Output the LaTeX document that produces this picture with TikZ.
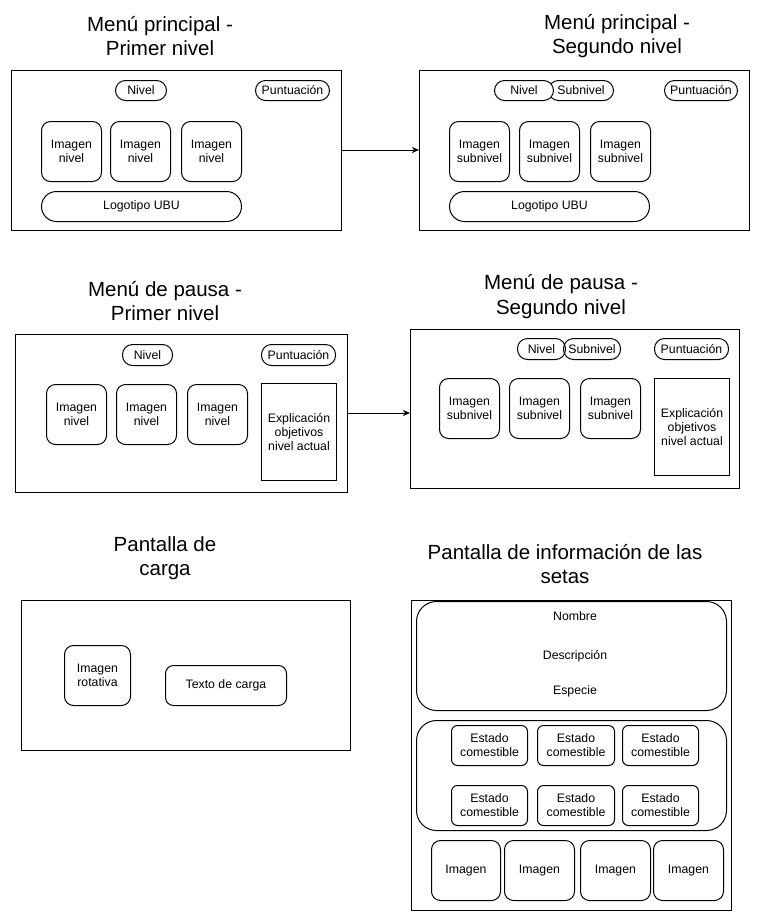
\documentclass[tikz,border=0pt]{standalone}
\usepackage{fontspec}
\setmainfont{Liberation Sans}
\usetikzlibrary{arrows.meta,positioning}
\newcommand{\boxfont}{\fontsize{12.3}{14}\selectfont}
\newcommand{\titlefont}{\fontsize{20.5}{24.5}\selectfont}

\begin{document}
\begin{tikzpicture}[
    x=1pt, y=-1pt,
    screen/.style={rectangle, draw, line width=1pt, anchor=north west, inner sep=0pt, outer sep=0pt},
    pill/.style={rectangle, draw, line width=1pt, rounded corners=10pt, minimum height=20pt, anchor=north west, inner sep=0pt, font=\boxfont},
    imgbox/.style={rectangle, draw, line width=1pt, rounded corners=9pt, minimum width=60pt, minimum height=60pt, anchor=north west, inner sep=0pt, align=center, font=\boxfont},
    textbox/.style={rectangle, draw, line width=1pt, minimum width=75pt, minimum height=97pt, anchor=north west, inner sep=0pt, align=center, font=\boxfont},
    statebox/.style={rectangle, draw, line width=1pt, rounded corners=6pt, minimum height=40pt, anchor=north west, inner sep=0pt, align=center, font=\boxfont},
    panel/.style={rectangle, draw, line width=1pt, rounded corners=20pt, minimum width=310pt, anchor=north west, inner sep=0pt},
    label/.style={inner sep=0pt, font=\boxfont},
    title/.style={align=center, font=\titlefont},
    arrow/.style={-{Stealth[length=7pt, width=6pt, inset=2pt]}, line width=1pt}
]
    \useasboundingbox (0,0) rectangle (761,922);

    % Titles
    \node[title] (t-mainone) at (160,36) {Menú principal -\\Primer nivel};
    \node[title] (t-maintwo) at (617,36) {Menú principal -\\Segundo nivel};
    \node[title] (t-pauseone) at (165,301) {Menú de pausa -\\Primer nivel};
    \node[title] (t-pausetwo) at (561,296.5) {Menú de pausa -\\Segundo nivel};
    \node[title] (t-loading) at (165,558) {Pantalla de\\carga};
    \node[title] (t-info) at (565,564) {Pantalla de información de las\\setas};

    % Main menu - first level
    \node[screen, minimum width=330pt, minimum height=160pt] (mainone) at (11,70) {};
    \node[pill, minimum width=51pt] (mainone-level) at (115,80) {Nivel};
    \node[pill, minimum width=74pt] (mainone-score) at (255,80) {Puntuación};
    \node[imgbox] (mainone-imga) at (41,121) {Imagen\\nivel};
    \node[imgbox] (mainone-imgb) at (110,121) {Imagen\\nivel};
    \node[imgbox] (mainone-imgc) at (181,121) {Imagen\\nivel};
    \node[pill, minimum width=200pt, minimum height=30pt, rounded corners=15pt] (mainone-logo) at (41,191) {Logotipo UBU};

    % Main menu - second level
    \node[pill, minimum width=65pt] (maintwo-sublevel) at (548,80) {Subnivel};
    \node[pill, minimum width=59pt, fill=white] (maintwo-level) at (494,80) {Nivel};
    \node[screen, minimum width=330pt, minimum height=160pt] (maintwo) at (419,70) {};
    \node[pill, minimum width=73pt] (maintwo-score) at (664,80) {Puntuación};
    \node[imgbox] (maintwo-imga) at (449,121) {Imagen\\subnivel};
    \node[imgbox] (maintwo-imgb) at (519,121) {Imagen\\subnivel};
    \node[imgbox] (maintwo-imgc) at (590,121) {Imagen\\subnivel};
    \node[pill, minimum width=200pt, minimum height=30pt, rounded corners=15pt] (maintwo-logo) at (449,191) {Logotipo UBU};

    % Pause menu - first level
    \node[screen, minimum width=332pt, minimum height=158pt] (pauseone) at (15,334) {};
    \node[pill, minimum width=50pt, minimum height=21pt] (pauseone-level) at (122,344) {Nivel};
    \node[pill, minimum width=74pt, minimum height=21pt] (pauseone-score) at (261,344) {Puntuación};
    \node[imgbox] (pauseone-imga) at (46,384) {Imagen\\nivel};
    \node[imgbox] (pauseone-imgb) at (116,384) {Imagen\\nivel};
    \node[imgbox] (pauseone-imgc) at (187,384) {Imagen\\nivel};
    \node[textbox] (pauseone-goal) at (261,383) {Explicación\\objetivos\\nivel actual};

    % Pause menu - second level
    \node[screen, minimum width=329pt, minimum height=159pt] (pausetwo) at (410,329) {};
    \node[pill, minimum width=48pt, minimum height=21pt] (pausetwo-level) at (517,338) {Nivel};
    \node[pill, minimum width=57pt, minimum height=21pt] (pausetwo-sublevel) at (563,338) {Subnivel};
    \node[pill, minimum width=74pt, minimum height=21pt] (pausetwo-score) at (654,338) {Puntuación};
    \node[imgbox] (pausetwo-imga) at (439,378) {Imagen\\subnivel};
    \node[imgbox] (pausetwo-imgb) at (509,378) {Imagen\\subnivel};
    \node[imgbox] (pausetwo-imgc) at (580,378) {Imagen\\subnivel};
    \node[textbox] (pausetwo-goal) at (654,378) {Explicación\\objetivos\\nivel actual};

    % Loading screen
    \node[screen, minimum width=329pt, minimum height=150pt] (loading) at (21,600) {};
    \node[imgbox, minimum width=66pt] (loading-img) at (64,645) {Imagen\\rotativa};
    \node[statebox, minimum width=121pt, rounded corners=8pt] (loading-text) at (165,665) {Texto de carga};

    % Mushroom info screen
    \node[screen, minimum width=320pt, minimum height=310pt] (info) at (411,600) {};
    \node[panel, minimum height=109pt] (info-data) at (416,601) {};
    \node[label] (info-name) at (575,616) {Nombre};
    \node[label] (info-desc) at (575,656) {Descripción};
    \node[label] (info-species) at (575,691) {Especie};
    \node[panel, minimum height=110pt] (info-states) at (416,720) {};
    \node[statebox, minimum width=76pt] (info-statea) at (451,725) {Estado\\comestible};
    \node[statebox, minimum width=77pt] (info-stateb) at (537,725) {Estado\\comestible};
    \node[statebox, minimum width=76pt] (info-statec) at (622,725) {Estado\\comestible};
    \node[statebox, minimum width=76pt] (info-stated) at (451,785) {Estado\\comestible};
    \node[statebox, minimum width=77pt] (info-statee) at (537,785) {Estado\\comestible};
    \node[statebox, minimum width=76pt] (info-statef) at (622,785) {Estado\\comestible};
    \node[imgbox, minimum width=69pt] (info-imga) at (431,840) {Imagen};
    \node[imgbox, minimum width=70pt] (info-imgb) at (504,840) {Imagen};
    \node[imgbox, minimum width=70pt] (info-imgc) at (580,840) {Imagen};
    \node[imgbox, minimum width=70pt] (info-imgd) at (653,840) {Imagen};

    % Arrows
    \draw[arrow] (mainone) -- (maintwo);
    \draw[arrow] (pauseone.east) -- (pauseone.east -| pausetwo.west);

\end{tikzpicture}
\end{document}
